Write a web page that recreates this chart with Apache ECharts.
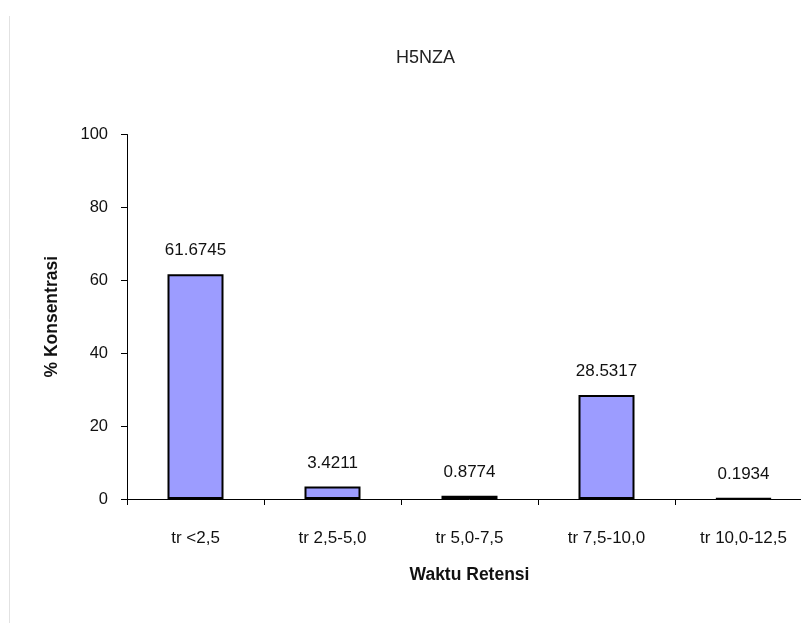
<!DOCTYPE html>
<html>
<head>
<meta charset="utf-8">
<script src="https://cdn.jsdelivr.net/npm/echarts@6/dist/echarts.min.js"></script>
<style>html,body{margin:0;padding:0;background:#fff;overflow:hidden;width:801px;height:623px;}#c{width:812px;height:623px;}</style>
</head>
<body>
<div id="c"></div>
<script>
var categories = ['tr <2,5', 'tr 2,5-5,0', 'tr 5,0-7,5', 'tr 7,5-10,0', 'tr 10,0-12,5'];
var values = [61.6745, 3.4211, 0.8774, 28.5317, 0.1934];
var yTicks = [0, 20, 40, 60, 80, 100];
var titleText = 'H5NZA';
var xName = 'Waktu Retensi';
var yName = '% Konsentrasi';

var FONT = '"Liberation Sans", Arial, sans-serif';
var chart = echarts.init(document.getElementById('c'), null, {renderer: 'canvas'});
chart.setOption({
  backgroundColor: '#ffffff',
  animation: false,
  title: {
    text: titleText, left: 391, top: 44,
    textStyle: {fontFamily: FONT, fontSize: 18, fontWeight: 'normal', color: '#222'}
  },
  graphic: [{
    type: 'line', shape: {x1: 9.5, y1: 16, x2: 9.5, y2: 623},
    style: {stroke: '#e2e2e2', lineWidth: 1}, silent: true
  }],
  grid: {left: 127, top: 134.5, right: 0, bottom: 124, containLabel: false},
  xAxis: {
    type: 'category', data: categories,
    name: xName, nameLocation: 'middle', nameGap: 67,
    nameTextStyle: {fontFamily: FONT, fontSize: 17.5, fontWeight: 'bold', color: '#111'},
    axisLine: {lineStyle: {color: '#000', width: 1}},
    axisTick: {show: true, length: 6, lineStyle: {color: '#000'}},
    axisLabel: {fontFamily: FONT, fontSize: 17, color: '#111', margin: 31}
  },
  yAxis: {
    type: 'value', min: yTicks[0], max: yTicks[yTicks.length - 1], interval: yTicks[1] - yTicks[0],
    name: yName, nameLocation: 'middle', nameGap: 66, nameRotate: 90,
    nameTextStyle: {fontFamily: FONT, fontSize: 17.5, fontWeight: 'bold', color: '#111'},
    axisLine: {show: true, lineStyle: {color: '#000', width: 1}},
    axisTick: {show: true, length: 6, lineStyle: {color: '#000'}},
    axisLabel: {fontFamily: FONT, fontSize: 16.5, color: '#111', margin: 19},
    splitLine: {show: false}
  },
  series: [{
    type: 'bar', data: values, barWidth: 56,
    itemStyle: {color: '#9c9cff', borderColor: '#000', borderWidth: 2},
    label: {
      show: true, position: 'top', distance: 15,
      fontFamily: FONT, fontSize: 17, color: '#111',
      formatter: function (p) { return String(p.value); }
    }
  }]
});
</script>
</body>
</html>
